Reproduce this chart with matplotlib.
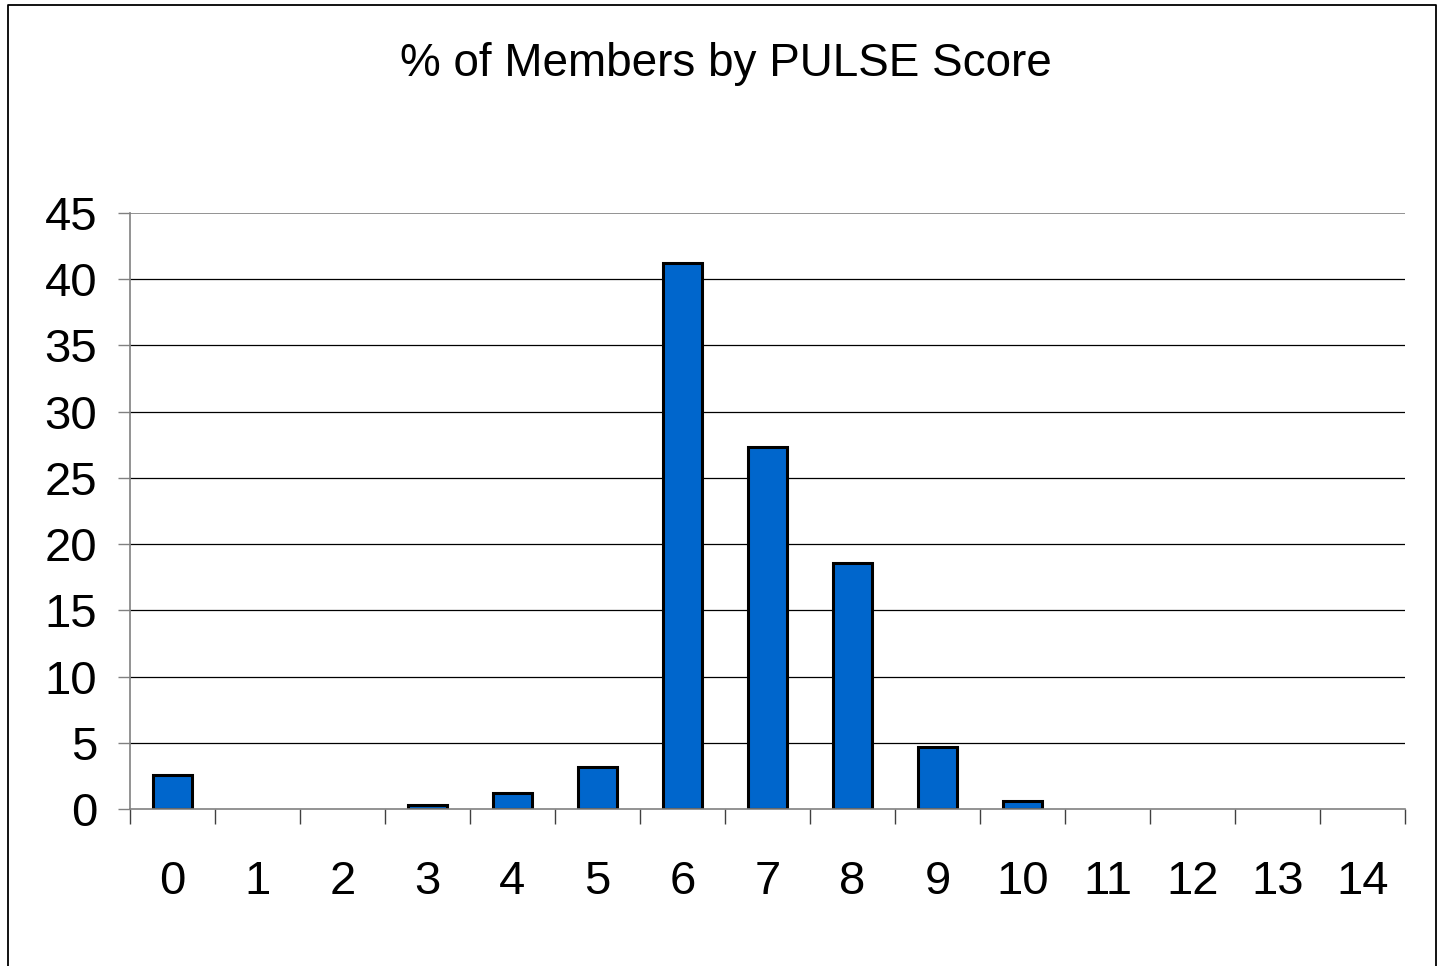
import numpy as np
import matplotlib
matplotlib.use('Agg')
import matplotlib.pyplot as plt
from matplotlib.lines import Line2D
from matplotlib.ticker import FixedLocator

plt.rcParams['font.family'] = ['Liberation Sans Narrow', 'Liberation Sans', 'DejaVu Sans']

# data
scores = list(range(15))
pct = [2.6, 0, 0, 0.3, 1.2, 3.2, 41.2, 27.3, 18.6, 4.7, 0.6, 0, 0, 0, 0]
yticks = [0, 5, 10, 15, 20, 25, 30, 35, 40, 45]

W, H = 1441, 966
fig = plt.figure(figsize=(W / 100, H / 100), dpi=100)
ax = fig.add_axes([130 / W, (H - 809) / H, (1405 - 130) / W, (809 - 213) / H])

# horizontal gridlines
for y in yticks[1:-1]:
    ax.axhline(y, color='black', lw=0.9, zorder=1)
ax.axhline(45, color='#808080', lw=1.2, zorder=1)

# empty categories get no outline
edge_w = [2.2 if v > 0 else 0 for v in pct]
ax.bar(scores, pct, width=0.46, color='#0066CC', edgecolor='black', lw=edge_w, zorder=3)

ax.set_xlim(-0.5, 14.5)
ax.set_ylim(0, 45)
ax.set_yticks(yticks)
ax.set_xticks(scores)
ax.xaxis.set_minor_locator(FixedLocator(np.arange(-0.5, 15, 1)))

for s in ['top', 'right']:
    ax.spines[s].set_visible(False)
ax.spines['left'].set_color('#808080')
ax.spines['bottom'].set_color('#808080')
ax.spines['left'].set_linewidth(1.2)
ax.spines['bottom'].set_linewidth(1.2)
ax.spines['bottom'].set_zorder(4)

ax.tick_params(axis='y', length=8.6, width=1.0, color='#808080', pad=15, labelsize=34)
ax.tick_params(axis='x', which='major', length=0, pad=37, labelsize=34)
ax.tick_params(axis='x', which='minor', length=10.5, width=1.0, color='#404040')

fig.text(726 / W, 1 - 64 / H, '% of Members by PULSE Score', ha='center', va='center', fontsize=33)

# outer chart frame (open at the bottom)
x0, x1 = 8 / W, 1436 / W
yt = 1 - 5 / H
fig.add_artist(Line2D([x0, x0, x1, x1], [-0.01, yt, yt, -0.01], color='black', lw=1.3,
                      transform=fig.transFigure))

fig.savefig('out.png', dpi=100)
